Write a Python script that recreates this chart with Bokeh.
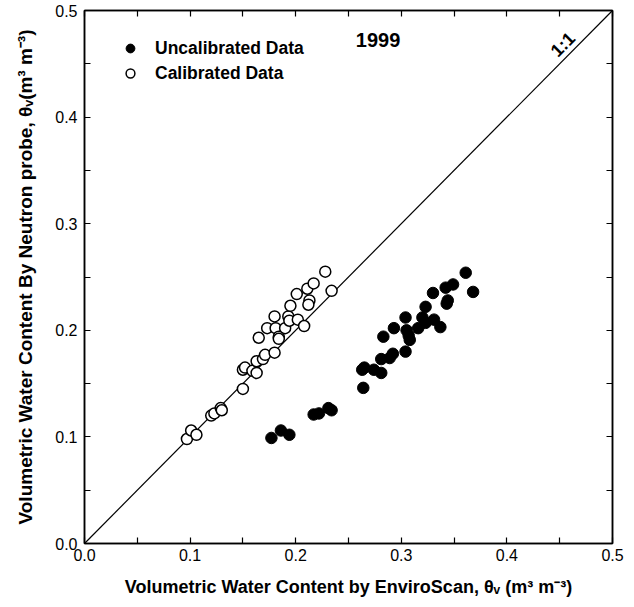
from bokeh.plotting import figure
from bokeh.models import Range1d, LinearAxis, Label, Legend, LegendItem, FixedTicker
from bokeh.embed import file_html
from bokeh.resources import INLINE

# Uncalibrated data (EnviroScan, Neutron probe)
unc_x = [0.177, 0.186, 0.194, 0.217, 0.222, 0.231, 0.234, 0.264, 0.263, 0.265,
         0.274, 0.281, 0.281, 0.289, 0.292, 0.283, 0.304, 0.293, 0.304, 0.305,
         0.307, 0.308, 0.316, 0.320, 0.323, 0.323, 0.331, 0.337, 0.330, 0.342,
         0.344, 0.343, 0.349, 0.361, 0.368]
unc_y = [0.099, 0.106, 0.102, 0.121, 0.122, 0.127, 0.125, 0.146, 0.163, 0.165,
         0.163, 0.160, 0.173, 0.174, 0.178, 0.194, 0.180, 0.202, 0.212, 0.200,
         0.195, 0.191, 0.202, 0.212, 0.207, 0.222, 0.210, 0.203, 0.235, 0.240,
         0.228, 0.225, 0.243, 0.254, 0.236]

# Calibrated data
cal_x = [0.097, 0.101, 0.106, 0.120, 0.123, 0.129, 0.130, 0.150, 0.150, 0.152,
         0.159, 0.163, 0.163, 0.169, 0.171, 0.180, 0.165, 0.173, 0.180, 0.181,
         0.184, 0.184, 0.190, 0.193, 0.194, 0.195, 0.201, 0.202, 0.208, 0.211,
         0.213, 0.212, 0.217, 0.228, 0.234]
cal_y = [0.098, 0.106, 0.102, 0.120, 0.122, 0.127, 0.125, 0.145, 0.163, 0.165,
         0.162, 0.160, 0.171, 0.173, 0.177, 0.179, 0.193, 0.202, 0.213, 0.202,
         0.194, 0.192, 0.202, 0.213, 0.209, 0.223, 0.234, 0.210, 0.204, 0.239,
         0.228, 0.224, 0.244, 0.255, 0.237]

one_to_one = [0.0, 0.5]

tick_values = [0.0, 0.1, 0.2, 0.3, 0.4, 0.5]
tick_labels = ["0.0", "0.1", "0.2", "0.3", "0.4", "0.5"]
minor_values = [0.05, 0.15, 0.25, 0.35, 0.45]

FONT = "Liberation Sans"

p = figure(width=626, height=600, x_range=Range1d(0, 0.5), y_range=Range1d(0, 0.5),
           output_backend="svg", toolbar_location=None,
           min_border_left=84, min_border_right=14, min_border_top=10, min_border_bottom=57,
           x_axis_label="Volumetric Water Content by EnviroScan, θᵥ (m³ m⁻³)",
           y_axis_label="Volumetric Water Content By Neutron probe, θᵥ(m³ m⁻³)")
p.grid.visible = False
p.outline_line_color = "black"
p.outline_line_width = 1.5
p.background_fill_color = "white"
p.border_fill_color = "white"


def style_axis(ax, labels=True):
    if labels:
        ax.ticker = FixedTicker(ticks=tick_values, minor_ticks=minor_values)
    else:
        ax.ticker = FixedTicker(ticks=[], minor_ticks=tick_values + minor_values)
    ax.major_tick_in = 6
    ax.major_tick_out = 0
    ax.minor_tick_in = 6
    ax.minor_tick_out = 0
    ax.major_tick_line_color = "black"
    ax.minor_tick_line_color = "black"
    ax.major_tick_line_width = 1.2
    ax.minor_tick_line_width = 1.2
    ax.axis_line_color = "black"
    ax.axis_line_width = 1.5
    if labels:
        ax.major_label_overrides = dict(zip(tick_values, tick_labels))
        ax.major_label_text_font = FONT
        ax.major_label_text_font_size = "16px"
        ax.major_label_text_color = "black"
        ax.axis_label_text_font = FONT
        ax.axis_label_text_font_style = "bold"
        ax.axis_label_text_color = "black"
    else:
        ax.major_label_standoff = 0


style_axis(p.xaxis[0])
style_axis(p.yaxis[0])
p.xaxis[0].major_label_standoff = 5
p.xaxis[0].axis_label_standoff = 13
p.xaxis[0].axis_label_text_font_size = "18px"
p.yaxis[0].major_label_standoff = 7
p.yaxis[0].axis_label_standoff = 16
p.yaxis[0].axis_label_text_font_size = "19px"

top_ax = LinearAxis()
right_ax = LinearAxis()
style_axis(top_ax, labels=False)
style_axis(right_ax, labels=False)
p.add_layout(top_ax, "above")
p.add_layout(right_ax, "right")

p.line(one_to_one, one_to_one, line_color="black", line_width=1.2)

r_cal = p.scatter(cal_x, cal_y, marker="circle", size=11, fill_color="white",
                  line_color="black", line_width=1.5)
r_unc = p.scatter(unc_x, unc_y, marker="circle", size=11.5, fill_color="black",
                  line_color="black", line_width=1)

legend = Legend(items=[LegendItem(label="Uncalibrated Data", renderers=[r_unc]),
                       LegendItem(label="Calibrated Data", renderers=[r_cal])],
                location=(35, 459), glyph_width=22, glyph_height=22, label_height=22,
                spacing=3, label_standoff=14, padding=0, margin=0,
                border_line_color=None, background_fill_alpha=0,
                label_text_font=FONT, label_text_font_style="bold",
                label_text_font_size="17.5px", label_text_color="black")
p.add_layout(legend)

p.add_layout(Label(x=0.278, y=0.472, text="1999", text_align="center",
                   text_baseline="middle", text_font=FONT, text_font_style="bold",
                   text_font_size="20px", text_color="black"))
p.add_layout(Label(x=0.453, y=0.468, text="1:1", angle=45, angle_units="deg",
                   text_align="center", text_baseline="middle", text_font=FONT,
                   text_font_style="bold", text_font_size="18px", text_color="black"))

open("out.html", "w").write(file_html(p, INLINE))
